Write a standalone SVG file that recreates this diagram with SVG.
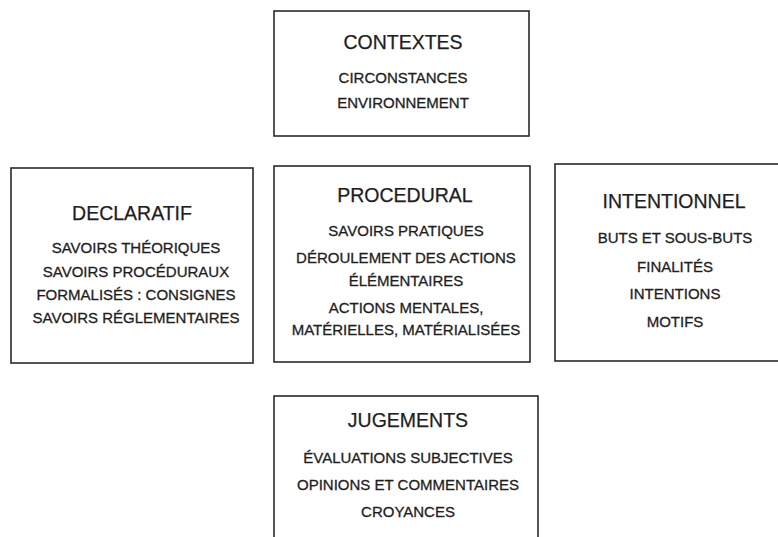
<svg xmlns="http://www.w3.org/2000/svg" width="778" height="537" viewBox="0 0 778 537">
<style>
.box{fill:none;stroke:#2a2a2a;stroke-width:1.6}
.t{font-family:"Liberation Sans",Arial,sans-serif;font-size:19.5px;fill:#1e1e1e;stroke:#1e1e1e;stroke-width:0.25;text-anchor:middle}
.b{font-family:"Liberation Sans",Arial,sans-serif;font-size:15px;fill:#1e1e1e;stroke:#1e1e1e;stroke-width:0.3;text-anchor:middle}
</style>
<rect width="778" height="537" fill="#fff"/>
<g id="contextes">
<rect class="box" x="274" y="11" width="255" height="125"/>
<text class="t" x="403" y="49">CONTEXTES</text>
<text class="b" x="403" y="83">CIRCONSTANCES</text>
<text class="b" x="403" y="108">ENVIRONNEMENT</text>
</g>
<g id="declaratif">
<rect class="box" x="11" y="168" width="242" height="195"/>
<text class="t" x="132" y="220">DECLARATIF</text>
<text class="b" x="136" y="253">SAVOIRS THÉORIQUES</text>
<text class="b" x="136" y="277">SAVOIRS PROCÉDURAUX</text>
<text class="b" x="136" y="300">FORMALISÉS : CONSIGNES</text>
<text class="b" x="136" y="323">SAVOIRS RÉGLEMENTAIRES</text>
</g>
<g id="procedural">
<rect class="box" x="274" y="166" width="256" height="196"/>
<text class="t" x="405" y="202">PROCEDURAL</text>
<text class="b" x="406" y="236">SAVOIRS PRATIQUES</text>
<text class="b" x="406" y="263">DÉROULEMENT DES ACTIONS</text>
<text class="b" x="406" y="286">ÉLÉMENTAIRES</text>
<text class="b" x="406" y="313">ACTIONS MENTALES,</text>
<text class="b" x="406" y="335">MATÉRIELLES, MATÉRIALISÉES</text>
</g>
<g id="intentionnel">
<rect class="box" x="555" y="164" width="230" height="197"/>
<text class="t" x="674" y="208">INTENTIONNEL</text>
<text class="b" x="675" y="243">BUTS ET SOUS-BUTS</text>
<text class="b" x="675" y="272">FINALITÉS</text>
<text class="b" x="675" y="299">INTENTIONS</text>
<text class="b" x="675" y="327">MOTIFS</text>
</g>
<g id="jugements">
<rect class="box" x="274" y="396" width="264" height="150"/>
<text class="t" x="408" y="427">JUGEMENTS</text>
<text class="b" x="408" y="463">ÉVALUATIONS SUBJECTIVES</text>
<text class="b" x="408" y="490">OPINIONS ET COMMENTAIRES</text>
<text class="b" x="408" y="517">CROYANCES</text>
</g>
<g id="connectors"></g>
</svg>
